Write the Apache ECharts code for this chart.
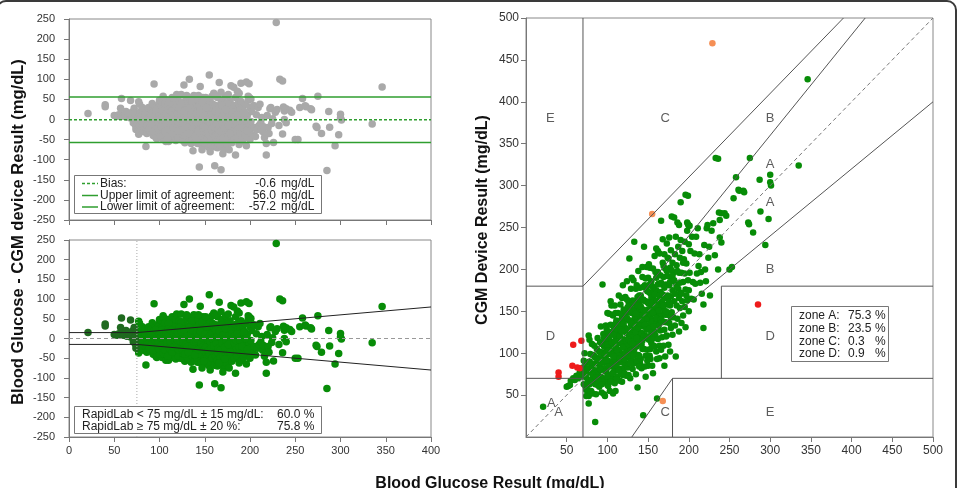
<!DOCTYPE html>
<html><head><meta charset="utf-8">
<script src="https://cdn.jsdelivr.net/npm/echarts@6/dist/echarts.min.js"></script>
<style>html,body{margin:0;padding:0;background:#fff}#c{width:959px;height:488px}</style>
</head><body><div id="c"></div><script>
// Each point: [reference blood glucose (mg/dL), CGM - blood glucose (mg/dL)]
const greenPts = [
[21,15],[50,10],[52,9],[54,8],[55,12],[58,12],[60,8],[61,10],[62,11],[64,6],[66,11],[67,12],[68,4],[69,9],[70,13],[71,-8],[71,20],[72,7],[72,28],[73,15],[73,-12],[73,2],[74,-3],[74,-18],[74,-25],
[76,-20],[76,-8],[77,5],[77,-28],[77,44],[77,-37],[78,12],[78,-15],[78,38],[79,-2],[79,20],[80,-25],[80,8],[81,-12],[81,30],[82,0],[82,-30],[83,15],[83,-18],[84,-5],[84,25],[85,-22],[85,10],[85,-67],[86,-35],[86,2],[87,18],[87,-10],[88,-26],[88,30],[89,5],[89,-16],[90,-30],[90,12],
[91,-3],[91,22],[92,-20],[92,40],[93,-40],[93,8],[94,88],[94,-12],[95,28],[95,-25],[96,0],[96,-45],[97,15],[97,-8],[98,35],[98,-30],[99,-18],[99,6],[100,20],[100,-38],[100,48],[98,-2],[96,12],[94,-28],[92,2],[90,-8],[97,-48],[97,-15],[99,30],[93,18],
[101,-10],[101,25],[102,-28],[102,5],[102,45],[103,-48],[103,12],[104,-18],[104,30],[105,-2],[105,-35],[105,52],[106,18],[106,-22],[107,-8],[107,38],[108,-42],[108,2],[108,22],[109,-15],[109,48],[110,-30],[110,10],[110,-55],[111,-5],[111,28],[112,-20],[112,15],[112,-40],[113,0],[113,35],[114,-25],[114,8],[114,55],[115,-12],[115,-48],[115,20],[116,-35],[116,3],[116,42],[117,-18],[117,12],[118,-28],[118,25],[118,-6],[119,-45],[119,16],[119,62],[120,-22],[120,6],[120,32],[120,-38],[103,-30],[104,-5],[106,40],[107,-55],[109,-25],[111,-42],[113,-32],[114,-10],[116,-20],[117,30],[118,48],[119,-2],[101,-40],[102,15],[104,58],[105,-15],[106,-8],[108,-30],[110,-18],[110,38],[111,10],[112,0],[113,-15],[115,5],[116,22],[117,-42],[118,-52],[119,-30],
[121,-10],[121,20],[122,-35],[122,8],[122,45],[123,-50],[123,-18],[123,25],[124,0],[124,-28],[124,62],[125,-8],[125,15],[125,-42],[126,35],[126,-20],[126,2],[127,86],[127,-32],[127,12],[128,-12],[128,28],[128,-58],[129,5],[129,-25],[129,48],[130,-15],[130,18],[130,-40],[130,-2],[131,32],[131,-30],[131,8],[132,-20],[132,55],[132,-5],[133,100],[133,-45],[133,15],[134,-12],[134,25],[134,-35],[135,2],[135,42],[135,-22],[135,-60],[136,-8],[136,18],[136,-28],[137,-78],[137,30],[137,-15],[138,5],[138,-40],[138,60],[139,-25],[139,12],[139,-2],[140,38],[140,-18],[140,-52],[140,22],[121,-45],[122,-22],[123,5],[124,-15],[125,30],[126,-52],[127,-5],[128,10],[129,-38],[130,60],[131,-12],[132,20],[133,-28],[134,10],[135,-10],[136,45],[137,0],[138,-20],[139,30],[140,5],[124,40],[126,-38],[128,-25],[131,-50],[133,0],[136,-45],[138,25],[139,-55],
[141,-8],[141,28],[142,-32],[142,10],[142,-60],[143,48],[143,-20],[143,0],[144,-118],[144,-12],[144,20],[145,82],[145,-40],[145,5],[146,-25],[146,35],[146,-5],[147,-50],[147,15],[147,-15],[148,28],[148,-30],[148,55],[149,-2],[149,-45],[149,12],[150,-20],[150,40],[150,-65],[150,2],[151,-35],[151,22],[151,-10],[152,8],[152,-55],[152,50],[153,-25],[153,18],[153,-8],[154,-42],[154,32],[154,0],[155,-15],[155,25],[155,-70],[156,-30],[156,10],[156,45],[157,-5],[157,-48],[157,20],[158,-22],[158,58],[158,2],[159,-38],[159,15],[159,-12],[160,30],[160,-58],[160,-2],[160,65],[141,-48],[142,-18],[143,-38],[144,35],[145,-25],[146,-62],[147,42],[148,-8],[149,25],[150,-30],[151,8],[152,-18],[153,-48],[154,12],[155,-38],[156,-18],[157,5],[158,-32],[159,38],[160,15],[143,60],[147,-75],[151,55],[153,-60],[156,-80],[158,-50],[145,-10],[149,-58],
[161,-115],[161,-68],[161,-25],[161,12],[162,35],[162,-8],[162,-45],[163,20],[163,-30],[163,-2],[164,55],[164,-18],[164,-55],[165,-10],[165,28],[165,-38],[166,92],[166,5],[166,-22],[167,-48],[167,15],[168,40],[168,-12],[168,-30],[169,-60],[169,22],[169,0],[170,-20],[170,48],[170,-42],[171,-5],[171,30],[171,-75],[172,-35],[172,10],[173,58],[173,-15],[173,-52],[174,-28],[174,18],[175,-8],[175,38],[175,-65],[176,-40],[176,5],[177,-75],[177,25],[177,-20],[178,-10],[178,45],[178,-48],[179,84],[179,-30],[179,12],[180,-58],[180,28],[180,-5],[162,60],[164,-70],[166,-62],[168,68],[170,-85],[172,-52],[174,40],[176,62],[165,8],[167,-5],[169,35],[171,-25],
[181,-38],[181,15],[182,80],[182,-20],[183,-50],[183,35],[184,-88],[184,0],[184,55],[185,-28],[185,20],[186,70],[186,-45],[187,-10],[187,40],[188,-62],[188,8],[188,65],[189,-35],[189,25],[190,90],[190,-18],[190,45],[191,-55],[191,5],[192,-30],[192,30],[193,-8],[193,-48],[194,18],[195,-40],[195,38],[196,-20],[196,-65],[196,93],[197,10],[198,-35],[198,48],[198,58],[199,89],[199,-12],[199,55],[200,30],[200,-50],[200,52],[201,51],[201,-5],[202,20],[200,-25],
[203,-38],[204,35],[205,-20],[206,-42],[207,12],[208,-25],[209,30],[210,-15],[211,38],[212,-8],[213,5],[214,-30],[215,-18],[216,-45],[218,-60],[218,-88],[219,10],[220,-20],[221,-35],[222,27],[223,30],[224,-10],[225,2],[226,-57],[228,18],[230,25],[232,-15],[233,100],[236,96],[236,-36],[237,31],[238,21],[238,0],[240,27],[240,-8],[244,23],[246,18],[250,-50],[253,-50],[255,30],[258,52],[261,34],[262,32],[267,27],[268,24],[273,-17],[275,58],[274,-20],[279,-35],[287,20],[288,-19],[298,-38],[294,-65],[300,13],[300,4],[301,-1],[335,-11],[346,81],
[82,-8],[84,12],[86,-15],[88,4],[89,-22],[91,10],[92,-12],[93,-30],[95,-5],[96,22],[97,2],[98,-20],[99,-8],[100,10],[100,-28],
[101,2],[102,-18],[103,22],[104,-38],[105,8],[106,-30],[107,15],[108,-12],[109,5],[109,-45],[110,25],[111,-25],[112,-8],[113,20],[114,-35],[115,-22],[116,12],[117,-5],[118,8],[119,-12],[120,-5],[120,15],
[121,-28],[122,28],[123,-8],[124,18],[125,-28],[126,-10],[127,22],[128,-40],[129,-15],[130,5],[131,-20],[132,-35],[133,28],[134,-2],[135,12],[136,-18],[137,20],[138,-8],[139,-42],[140,-5],
[141,15],[142,-2],[143,-28],[144,8],[145,18],[146,-12],[147,2],[148,-20],[149,-30],[150,10],[151,-22],[152,30],[153,0],[154,-30],[155,5],[156,-8],[157,-25],[158,12],[159,-2],[160,-18],
[161,2],[162,20],[163,-12],[164,5],[165,-25],[166,18],[167,-30],[168,2],[169,-12],[170,8],[172,-22],[173,25],[174,-5],[176,-15],[177,8],[178,-35],[179,20],[180,12],[182,5],[183,-12],[185,-5],[186,12],[188,-22],[189,-5],[191,-20],[193,15],[195,0],[197,-28]
];
// Clarke zone C points (orange) and zone D points (red), same format
const zoneCPts = [[155,111],[229,241],[168,-125]];
const zoneDPts = [[40,37],[40,32],[58,52],[57,28],[63,20],[66,16],[68,47],[285,-127]];

// Bland-Altman statistics
const baBias = -0.6, baUpper = 56.0, baLower = -57.2;
const baXRange = [0, 400];
// acceptance limits: +-15 mg/dL below 75, +-20 % above
const limitUpper = [[0,15],[75,15],[400,80]];
const limitLower = [[0,-15],[75,-15],[400,-80]];
const limitSplit = 75;
const pctLow = '60.0 %', pctHigh = '75.8 %';
// Clarke error grid
const clarkeLines = [
 [[70,0],[70,500]], [[0,180],[70,180]], [[0,70],[70,70]],
 [[70,180],[390,500]], [[70,84],[416.7,500]], [[70,56],[500,400]],
 [[130,0],[180,70]], [[180,0],[180,70]], [[180,70],[500,70]],
 [[240,70],[240,180]], [[240,180],[500,180]]
];
const identityLine = [[0,0],[500,500]];
const zoneLabels = [['E',30,380],['C',171,380],['B',300,380],['A',300,325],['A',300,280],['B',300,200],['D',30,120],['D',300,120],['A',31,40],['A',40,29],['C',171,29],['E',300,29]];
const zoneNames = ['zone A:','zone B:','zone C:','zone D:'];
const zonePct = ['75.3','23.5','0.3','0.9'];

const FF = 'Liberation Sans, Arial, sans-serif';
const GREEN = '#078c07', DARK = '#1f6a1f', GRAY = '#a9a9a9', ORANGE = '#f58f55', RED = '#ee1b1b', LGREEN = '#2f9e2f';

const allPts = greenPts.concat(zoneCPts, zoneDPts);
const lowPts = allPts.filter(p => p[0] < limitSplit);
const highPts = allPts.filter(p => p[0] >= limitSplit);
const toClarke = p => [p[0], p[0] + p[1]];

function axisCommon(min, max, interval, showLabel, fs, margin, hideMin) {
  return {
    type: 'value', min, max, interval,
    axisLine: {show: true, onZero: false, lineStyle: {color: '#777', width: 1}},
    axisTick: {show: true, inside: false, length: 5, lineStyle: {color: '#777'}},
    axisLabel: {show: showLabel, fontSize: fs, color: '#333', fontFamily: FF, margin, showMinLabel: !hideMin},
    splitLine: {show: false}
  };
}
function seg(data, xi, style, z) {
  return {type: 'line', xAxisIndex: xi, yAxisIndex: xi, data, symbol: 'none', silent: true, lineStyle: style, z: z || 5, animation: false};
}
function dots(data, xi, color, size, z) {
  return {type: 'scatter', xAxisIndex: xi, yAxisIndex: xi, data, symbolSize: size, itemStyle: {color, opacity: 1}, z, silent: true};
}

const series = [];
// top BA
series.push(dots(allPts, 0, GRAY, 7.5, 2));
series.push(seg(baXRange.map(x => [x, baBias]), 0, {color: LGREEN, width: 1.5, type: [3, 2]}));
series.push(seg(baXRange.map(x => [x, baUpper]), 0, {color: LGREEN, width: 1.5}));
series.push(seg(baXRange.map(x => [x, baLower]), 0, {color: LGREEN, width: 1.5}));
// bottom BA
series.push(dots(highPts, 1, GREEN, 7.5, 2));
series.push(dots(lowPts, 1, DARK, 7.5, 3));
series.push(seg(baXRange.map(x => [x, 0]), 1, {color: '#999', width: 1, type: [4, 3]}));
series.push(seg([[limitSplit, -250], [limitSplit, 250]], 1, {color: '#aaa', width: 1, type: [1, 2]}));
series.push(seg(limitUpper, 1, {color: '#222', width: 1}));
series.push(seg(limitLower, 1, {color: '#222', width: 1}));
// Clarke
series.push(dots(greenPts.map(toClarke), 2, GREEN, 6.5, 2));
series.push(dots(zoneCPts.map(toClarke), 2, ORANGE, 6.5, 3));
series.push(dots(zoneDPts.map(toClarke), 2, RED, 6.5, 3));
series.push(seg(identityLine, 2, {color: '#777', width: 1, type: [4, 3]}));
clarkeLines.forEach(l => series.push(seg(l, 2, {color: '#555', width: 1})));
series.push({type: 'scatter', xAxisIndex: 2, yAxisIndex: 2, data: zoneLabels.map(z => ({value: [z[1], z[2]], name: z[0]})),
  symbolSize: 1, itemStyle: {color: 'rgba(0,0,0,0)'}, silent: true, z: 6,
  label: {show: true, position: 'inside', formatter: p => p.name, color: '#333', fontSize: 13, fontFamily: FF}});

const txt = (text, x, y, o) => ({type: 'text', x, y, z: 100, style: Object.assign({text, fill: '#222', fontSize: 12, fontFamily: FF, verticalAlign: 'middle'}, o || {})});
const graphic = [
  {type: 'rect', shape: {x: -3, y: 1, width: 959, height: 540, r: 9}, style: {fill: 'none', stroke: '#3a3a3a', lineWidth: 2}, z: 100, silent: true},
  // top legend
  {type: 'rect', shape: {x: 74.5, y: 175.5, width: 247, height: 38}, style: {fill: '#fff', stroke: '#777', lineWidth: 1}, z: 90},
  {type: 'line', shape: {x1: 82, y1: 183.5, x2: 98, y2: 183.5}, style: {stroke: LGREEN, lineWidth: 1.5, lineDash: [3, 2]}, z: 100},
  {type: 'line', shape: {x1: 82, y1: 195.5, x2: 98, y2: 195.5}, style: {stroke: LGREEN, lineWidth: 1.5}, z: 100},
  {type: 'line', shape: {x1: 82, y1: 207, x2: 98, y2: 207}, style: {stroke: LGREEN, lineWidth: 1.5}, z: 100},
  txt('Bias:', 100, 183.5), txt('Upper limit of agreement:', 100, 195.5), txt('Lower limit of agreement:', 100, 207),
  txt(baBias.toFixed(1), 276, 183.5, {align: 'right'}), txt(baUpper.toFixed(1), 276, 195.5, {align: 'right'}), txt(baLower.toFixed(1), 276, 207, {align: 'right'}),
  txt('mg/dL', 281, 183.5), txt('mg/dL', 281, 195.5), txt('mg/dL', 281, 207),
  // bottom legend
  {type: 'rect', shape: {x: 74.5, y: 406.5, width: 247, height: 27}, style: {fill: '#fff', stroke: '#777', lineWidth: 1}, z: 90},
  txt('RapidLab < 75 mg/dL ± 15 mg/dL:', 82, 415), txt('RapidLab ≥ 75 mg/dL ± 20 %:', 82, 426.5),
  txt(pctLow, 277, 415), txt(pctHigh, 277, 426.5),
  // Clarke legend
  {type: 'rect', shape: {x: 791.5, y: 306.5, width: 97, height: 55}, style: {fill: '#fff', stroke: '#777', lineWidth: 1}, z: 90},
  // axis titles
  Object.assign(txt('Blood Glucose - CGM device Result (mg/dL)', 18, 232, {align: 'center', fontSize: 16.5, fontWeight: 'bold', fill: '#111'}), {rotation: Math.PI / 2}),
  Object.assign(txt('CGM Device Result (mg/dL)', 483, 220, {align: 'center', fontSize: 16, fontWeight: 'bold', fill: '#111'}), {rotation: Math.PI / 2}),
  txt('Blood Glucose Result (mg/dL)', 490, 484, {align: 'center', fontSize: 16, fontWeight: 'bold', fill: '#111'})
];
zoneNames.forEach((n, i) => {
  const y = 316 + i * 12.7;
  graphic.push(txt(n, 799, y), txt(zonePct[i], 848, y), txt('%', 875, y));
});

const chart = echarts.init(document.getElementById('c'), null, {renderer: 'canvas'});
chart.setOption({
  animation: false,
  grid: [
    {left: 69, top: 19, width: 362, height: 201, show: true, borderColor: '#888', borderWidth: 1, backgroundColor: 'transparent'},
    {left: 69, top: 240, width: 362, height: 197, show: true, borderColor: '#888', borderWidth: 1, backgroundColor: 'transparent'},
    {left: 526, top: 18, width: 407, height: 419, show: true, borderColor: '#888', borderWidth: 1, backgroundColor: 'transparent'}
  ],
  xAxis: [
    Object.assign(axisCommon(0, 400, 50, false, 11, 8), {gridIndex: 0}),
    Object.assign(axisCommon(0, 400, 50, true, 11, 8), {gridIndex: 1}),
    Object.assign(axisCommon(0, 500, 50, true, 12, 8, true), {gridIndex: 2})
  ],
  yAxis: [
    Object.assign(axisCommon(-250, 250, 50, true, 11, 14), {gridIndex: 0}),
    Object.assign(axisCommon(-250, 250, 50, true, 11, 14), {gridIndex: 1}),
    Object.assign(axisCommon(0, 500, 50, true, 12, 7, true), {gridIndex: 2})
  ],
  series,
  graphic
});
</script></body></html>
